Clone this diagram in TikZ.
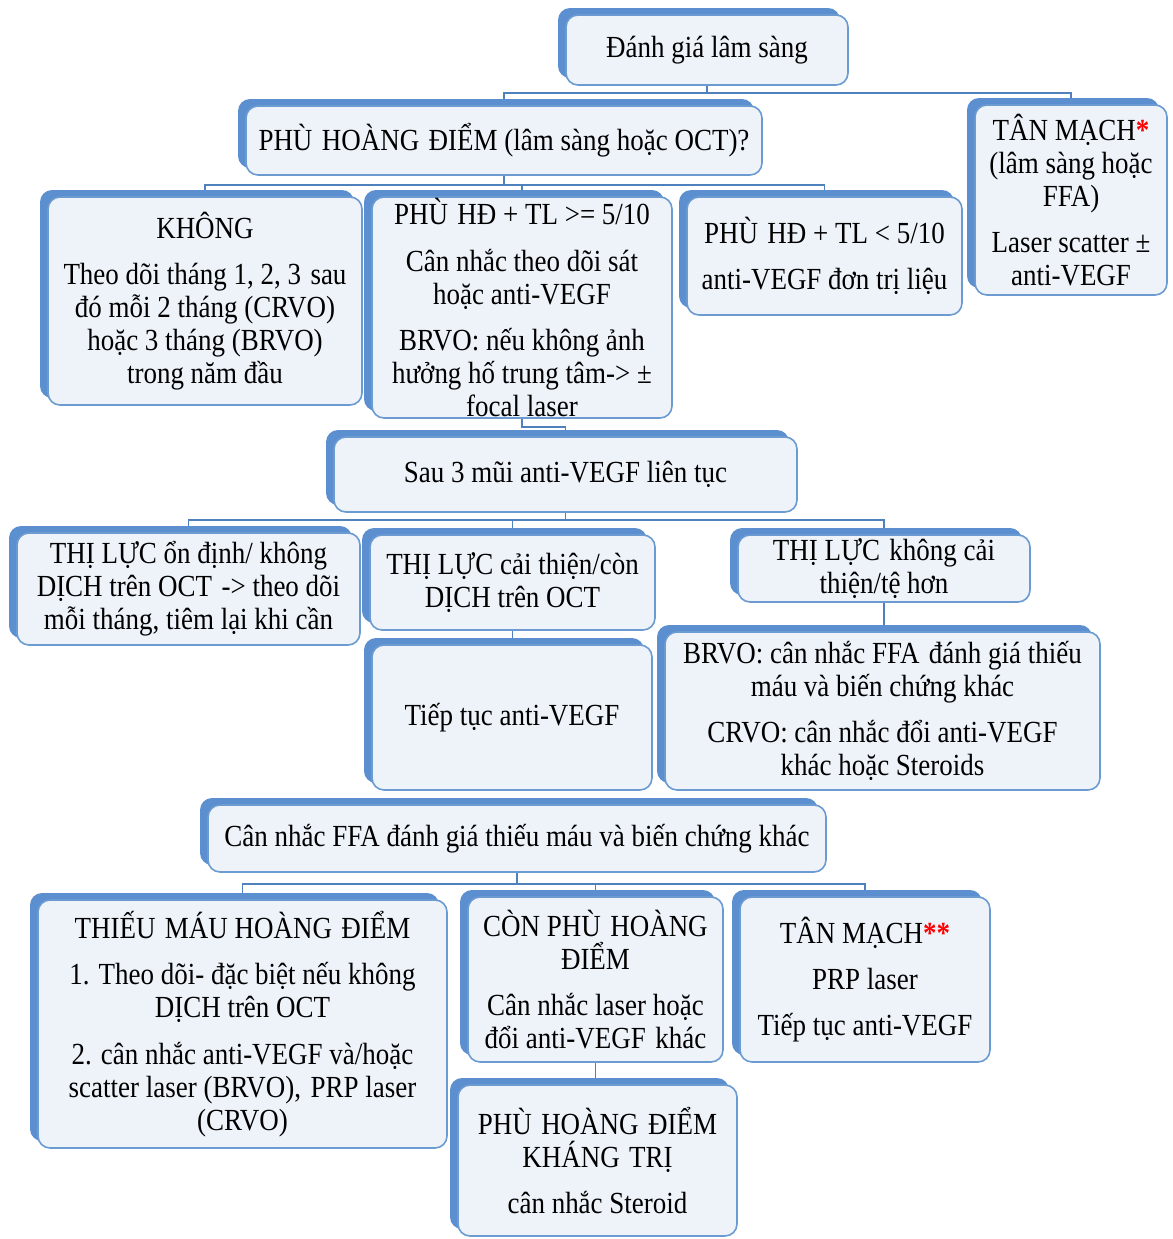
\documentclass[tikz,border=0pt]{standalone}
\usepackage{fontspec}
\setmainfont{Liberation Serif}[FakeStretch=0.88]
\usetikzlibrary{shadows,backgrounds,calc}
\definecolor{boxfill}{HTML}{EEF3FA}
\definecolor{boxline}{HTML}{6C9BD2}
\definecolor{shade}{HTML}{5B8FD0}
\definecolor{linkcol}{HTML}{4F81BD}
\newcommand{\boxfont}{\fontsize{23pt}{24.75pt}\selectfont}
\newcommand{\redstar}[1]{\textcolor{red}{\textbf{#1}}}
\newcommand{\ws}{\ \kern2pt}
\begin{document}
\begin{tikzpicture}[x=0.75pt,y=-0.75pt,
  box/.style={draw=boxline, line width=1.2pt, fill=boxfill, rounded corners=9pt,
    align=center, inner sep=0pt, font=\boxfont,
    general shadow={fill=shade, shadow xshift=-6pt, shadow yshift=5.25pt}},
  sz/.style 2 args={minimum width=#1*0.75pt, minimum height=#2*0.75pt},
  link/.style={draw=linkcol, line width=1.1pt}]
\useasboundingbox (0,0) rectangle (1172,1239);

\node[box, sz={282}{70}] (root) at (707,50) {Đánh giá lâm sàng};
\node[box, sz={516}{69}] (phu) at (504,140.5) {PHÙ\ws HOÀNG\ws ĐIỂM (lâm sàng hoặc OCT)?};
\node[box, sz={192}{190}] (tan) at (1071,200) {TÂN MẠCH\redstar{*}\\(lâm sàng hoặc\\FFA)\\[10pt]Laser scatter ±\\anti-VEGF};

\node[box, sz={314}{208}] (khong) at (205,301) {KHÔNG\\[10pt]Theo dõi tháng 1, 2, 3\ws sau\\đó mỗi 2 tháng (CRVO)\\hoặc 3 tháng (BRVO)\\trong năm đầu};
\node[box, sz={300}{221}] (b2) at (522,307.5) {PHÙ\ws HĐ + TL >= 5/10\\[10pt]Cân nhắc theo dõi sát\\hoặc anti-VEGF\\[10pt]BRVO: nếu không ảnh\\hưởng hố trung tâm-> ±\\focal laser};
\node[box, sz={275}{118}] (b3) at (824.5,256) {PHÙ\ws HĐ + TL < 5/10\\[10pt]anti-VEGF đơn trị liệu};

\node[box, sz={463}{75}] (sau) at (565.5,474.5) {Sau 3 mũi anti-VEGF liên tục};

\node[box, sz={343}{112}] (t1) at (188.5,589) {THỊ LỰC ổn định/ không\\DỊCH trên OCT\ws -> theo dõi\\mỗi tháng, tiêm lại khi cần};
\node[box, sz={285}{95}] (t2) at (512.5,582.5) {THỊ LỰC cải thiện/còn\\DỊCH trên OCT};
\node[box, sz={292}{67}] (t3) at (884,568.5) {THỊ LỰC\ws không cải\\thiện/tệ hơn};

\node[box, sz={280}{145}] (tiep) at (512,717.5) {Tiếp tục anti-VEGF};
\node[box, sz={435}{158}] (brvo) at (882.5,711) {BRVO: cân nhắc FFA\ws đánh giá thiếu\\máu và biến chứng khác\\[10pt]CRVO: cân nhắc đổi anti-VEGF\\khác hoặc Steroids};

\node[box, sz={618}{67}] (ffa) at (517,838.5) {Cân nhắc FFA đánh giá thiếu máu và biến chứng khác};

\node[box, sz={409}{248}] (thieu) at (242.5,1024) {THIẾU\ws MÁU HOÀNG\ws ĐIỂM\\[10pt]1. Theo dõi- đặc biệt nếu không\\DỊCH trên OCT\\[10pt]2. cân nhắc anti-VEGF và/hoặc\\scatter laser (BRVO),\ws PRP laser\\(CRVO)};
\node[box, sz={255}{165}] (con) at (595.5,979.5) {CÒN PHÙ\ws HOÀNG\\ĐIỂM\\[10pt]Cân nhắc laser hoặc\\đổi anti-VEGF\ws khác};
\node[box, sz={250}{165}] (tm2) at (865,979.5) {TÂN MẠCH\redstar{**}\\[10pt]PRP laser\\[10pt]Tiếp tục anti-VEGF};
\node[box, sz={279}{151}] (khang) at (597.5,1160.5) {PHÙ\ws HOÀNG\ws ĐIỂM\\KHÁNG\ws TRỊ\\[10pt]cân nhắc Steroid};

\begin{pgfonlayer}{background}
\fill[white] (0,0) rectangle (1172,1239);
\coordinate (j1) at (707,93);
\coordinate (j2) at (504,185);
\coordinate (j3) at (565.5,520);
\coordinate (j4) at (517,884);
\draw[link] (root.south) -- (j1) -| (phu.north);
\draw[link] (j1) -| (tan.north);
\draw[link] (phu.south) -- (j2) -| (khong.north);
\draw[link] (j2) -| (b2.north);
\draw[link] (j2) -| (b3.north);
\draw[link] (b2.south) -- ++(0,8) -| (sau.north);
\draw[link] (sau.south) -- (j3) -| (t1.north);
\draw[link] (j3) -| (t2.north);
\draw[link] (j3) -| (t3.north);
\draw[link] (t2.south) -- (t2.south |- tiep.north);
\draw[link] (t3.south) -- (t3.south |- brvo.north);
\draw[link] (ffa.south) -- (j4) -| (thieu.north);
\draw[link] (j4) -| (con.north);
\draw[link] (j4) -| (tm2.north);
\draw[link] (con.south) -- (con.south |- khang.north);
\end{pgfonlayer}
\end{tikzpicture}
\end{document}
